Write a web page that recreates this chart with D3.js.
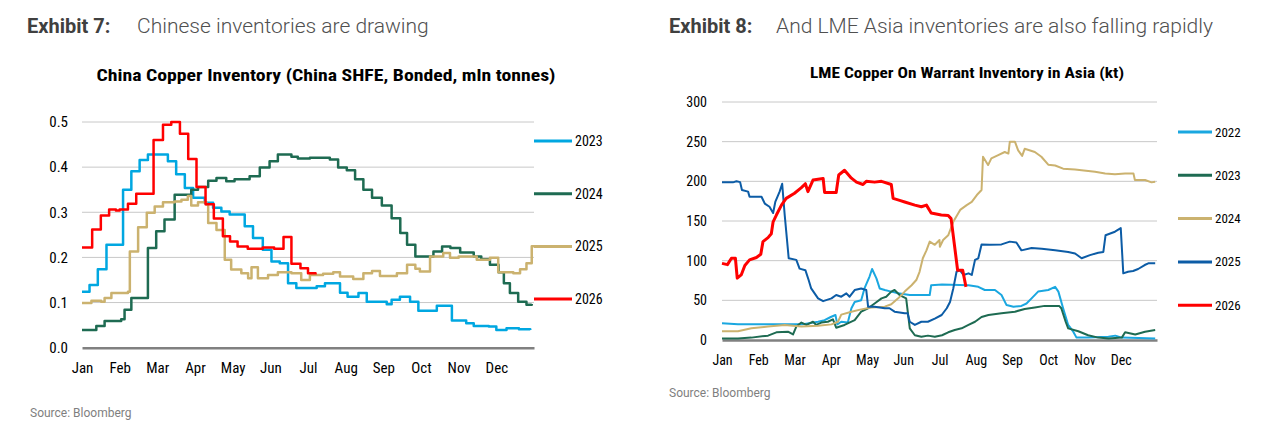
<!DOCTYPE html>
<html>
<head>
<meta charset="utf-8">
<script src="https://cdn.jsdelivr.net/npm/d3@7"></script>
<style>
  body { margin: 0; background: #fff; }
  svg text { font-family: "Roboto Condensed", "Liberation Sans Narrow", Roboto, sans-serif; }
</style>
</head>
<body>
<svg width="1281" height="430"></svg>
<script>
// month tick labels (shared)
var monthLabels = ["Jan","Feb","Mar","Apr","May","Jun","Jul","Aug","Sep","Oct","Nov","Dec"];

// ---- Exhibit 7: China copper inventory (mln t), x = fractional month ----
var chinaYears = ["2023","2024","2025","2026"];
var chinaTicks = [0, 0.1, 0.2, 0.3, 0.4, 0.5];
var china2023 = [[0,0.124],[0.2,0.139],[0.42,0.174],[0.65,0.228],[1.09,0.35],[1.31,0.391],[1.53,0.416],[1.75,0.428],[2.28,0.413],[2.5,0.384],[2.73,0.354],[2.95,0.332],[3.26,0.321],[3.48,0.31],[3.7,0.302],[3.92,0.295],[4.32,0.269],[4.54,0.243],[4.8,0.217],[5.03,0.191],[5.25,0.187],[5.47,0.143],[5.69,0.132],[6.23,0.136],[6.45,0.143],[6.85,0.122],[7.05,0.113],[7.34,0.121],[7.56,0.102],[8.09,0.096],[8.22,0.106],[8.44,0.113],[8.71,0.102],[8.93,0.082],[9.42,0.093],[9.82,0.06],[10.2,0.054],[10.4,0.048],[10.8,0.047],[11.0,0.039],[11.27,0.043],[11.6,0.041],[11.9,0.039]];
var china2024 = [[0,0.039],[0.38,0.048],[0.6,0.059],[1.04,0.063],[1.13,0.084],[1.31,0.11],[1.75,0.221],[1.97,0.258],[2.19,0.284],[2.46,0.339],[2.9,0.35],[3.08,0.356],[3.35,0.37],[3.57,0.376],[3.83,0.369],[4.05,0.373],[4.45,0.38],[4.72,0.399],[4.98,0.413],[5.2,0.428],[5.56,0.423],[5.73,0.419],[6.05,0.421],[6.58,0.417],[6.8,0.399],[7.03,0.393],[7.25,0.373],[7.47,0.35],[7.7,0.332],[7.96,0.315],[8.22,0.287],[8.45,0.254],[8.63,0.228],[8.85,0.202],[9.33,0.213],[9.56,0.224],[9.78,0.221],[10.04,0.211],[10.4,0.202],[10.6,0.196],[10.83,0.184],[11.06,0.167],[11.2,0.143],[11.36,0.121],[11.58,0.102],[11.8,0.095],[11.94,0.097]];
var china2025 = [[0,0.099],[0.25,0.104],[0.51,0.102],[0.6,0.11],[0.78,0.121],[1.22,0.124],[1.27,0.213],[1.49,0.267],[1.72,0.299],[1.93,0.313],[2.15,0.322],[2.46,0.324],[2.64,0.328],[2.81,0.336],[2.9,0.315],[3.08,0.322],[3.3,0.317],[3.35,0.276],[3.57,0.261],[3.79,0.195],[3.96,0.173],[4.23,0.165],[4.41,0.154],[4.5,0.178],[4.67,0.154],[4.94,0.161],[5.2,0.167],[5.56,0.165],[5.82,0.15],[6.05,0.161],[6.4,0.164],[6.67,0.167],[6.85,0.158],[7.2,0.152],[7.47,0.165],[7.7,0.17],[7.91,0.159],[8.36,0.165],[8.63,0.184],[8.85,0.175],[8.97,0.169],[9.24,0.202],[9.59,0.21],[9.77,0.199],[10.0,0.202],[10.48,0.195],[10.83,0.199],[11.05,0.167],[11.45,0.165],[11.63,0.174],[11.8,0.187],[11.94,0.225],[12,0.225]];
var china2026 = [[0,0.222],[0.27,0.262],[0.5,0.293],[0.72,0.306],[0.9,0.304],[1.0,0.306],[1.22,0.319],[1.44,0.341],[1.9,0.46],[2.15,0.494],[2.37,0.5],[2.6,0.474],[2.82,0.418],[3.04,0.356],[3.28,0.318],[3.5,0.286],[3.74,0.247],[3.93,0.235],[4.13,0.224],[4.4,0.219],[4.8,0.222],[5.1,0.219],[5.35,0.245],[5.56,0.186],[5.8,0.176],[6.0,0.165],[6.2,0.162]];

// ---- Exhibit 8: LME copper on warrant inventory in Asia (kt) ----
var lmeYears = ["2022","2023","2024","2025","2026"];
var lmeTicks = [0, 50, 100, 150, 200, 250, 300];
var lme2022 = [[0,21],[0.44,19.7],[1.27,19.7],[2.2,19.7],[2.65,23],[2.83,25],[3.0,29],[3.13,31.5],[3.18,19.7],[3.29,23],[3.47,22],[3.57,40],[3.66,48],[3.84,50],[3.93,65],[4.07,80],[4.14,89.5],[4.26,77.7],[4.35,65],[4.49,63],[4.67,61],[4.86,59],[5.18,56.7],[5.41,56.7],[5.73,56.7],[5.77,69],[6.07,70],[6.8,69],[7.07,67],[7.25,63],[7.53,63],[7.71,56.7],[7.85,44],[8.04,42],[8.26,43],[8.4,46],[8.54,52.5],[8.72,61],[9.0,63],[9.19,67],[9.28,61],[9.41,40],[9.55,19],[9.69,10.5],[9.78,3],[10.1,3],[10.66,4],[10.85,5.5],[11.03,3],[11.95,2]];
var lme2023 = [[0,2],[0.44,2],[0.81,3],[1.27,5.5],[1.5,9.7],[1.82,10.5],[1.96,7],[2.05,17],[2.19,22],[2.33,19],[2.51,23],[2.6,19],[2.74,22],[2.92,23],[3.06,26],[3.15,15.5],[3.38,19],[3.66,25],[3.84,35.7],[4.03,40],[4.21,46],[4.4,52.5],[4.53,54.6],[4.67,61],[4.76,63],[4.9,56.7],[5.08,52.5],[5.18,14.7],[5.32,6],[5.5,4],[5.68,5.5],[5.87,4],[6.07,6],[6.24,9.7],[6.42,12.6],[6.61,14.7],[6.8,19],[6.98,23],[7.16,29],[7.35,31.5],[7.71,33.6],[8.08,35.7],[8.35,39],[8.63,41],[8.9,43],[9.3,43],[9.36,40],[9.48,23],[9.55,14.7],[9.83,11],[10.1,6],[10.38,3],[10.66,2],[11.03,3],[11.12,9.7],[11.4,7],[11.67,10.5],[11.95,12.6]];
var lme2024 = [[0,11],[0.44,11],[0.81,14.7],[1.27,17],[1.73,19],[2.19,17],[2.65,18],[3.02,19.7],[3.2,23],[3.29,32],[3.57,35.7],[3.84,38.6],[4.12,41],[4.49,42],[4.67,45],[4.86,52.5],[5.04,61],[5.23,69],[5.36,75.6],[5.45,86],[5.54,103],[5.64,113],[5.73,124],[5.87,120],[6.0,126],[6.01,117.6],[6.1,126],[6.24,132],[6.38,149],[6.57,164],[6.75,170],[6.89,174],[7.03,182.7],[7.16,189],[7.2,231],[7.34,220.5],[7.43,229],[7.62,233],[7.8,237],[7.9,235],[7.94,250],[8.08,250],[8.17,239],[8.28,232],[8.35,241],[8.63,237],[8.81,231],[9.0,221],[9.19,220],[9.41,216],[9.74,215],[9.92,214],[10.29,212],[10.57,210],[10.84,209],[11.12,210],[11.35,210],[11.39,201.6],[11.67,201.6],[11.85,198.7],[11.95,199.5]];
var lme2025 = [[0,198.7],[0.3,198.7],[0.4,200],[0.5,199],[0.55,189],[0.72,187],[0.76,180.6],[1.09,180.6],[1.18,172],[1.31,168],[1.41,160],[1.47,174],[1.59,187],[1.66,197],[1.73,157.5],[1.84,103],[2.05,101],[2.14,90],[2.3,88],[2.39,75.6],[2.46,65],[2.65,52.5],[2.79,49],[3.02,52.5],[3.15,56.7],[3.29,54.6],[3.43,58.8],[3.52,54.6],[3.66,63],[3.84,65],[3.98,63],[4.03,42],[4.21,42],[4.49,40],[4.62,40],[4.76,35.7],[5.04,33.6],[5.12,33.6],[5.18,23],[5.32,19],[5.5,23],[5.68,23],[5.87,27],[6.06,31.5],[6.2,40],[6.29,48],[6.38,65],[6.47,86],[6.56,88],[6.66,82],[6.8,84],[6.89,82],[6.98,101],[7.07,103],[7.16,120.5],[7.39,120],[7.71,120.5],[7.94,124],[8.12,123],[8.26,113],[8.54,116],[8.82,115],[9.19,113],[9.55,111],[9.74,109],[9.92,103],[10.15,107],[10.38,110],[10.52,111],[10.58,132],[10.84,136.5],[11.0,141],[11.07,84],[11.2,86],[11.34,87],[11.48,89.5],[11.66,94.5],[11.76,96.6],[11.95,96.6]];
var lme2026 = [[0,96.6],[0.15,95],[0.26,103],[0.37,103],[0.42,78],[0.53,82],[0.63,94],[0.76,101],[0.95,104],[1.07,108],[1.13,124],[1.27,129],[1.36,134],[1.41,149],[1.5,157.5],[1.64,170],[1.77,178.5],[2.0,185],[2.19,192],[2.3,197],[2.37,187],[2.51,201.6],[2.79,203.7],[2.83,186],[3.15,186],[3.22,208],[3.38,214],[3.57,204],[3.71,199],[3.89,196],[3.98,200],[4.21,199],[4.4,200],[4.67,196],[4.72,178.5],[4.9,176],[5.04,174],[5.32,170],[5.5,168],[5.64,170],[5.77,160],[6.05,157.5],[6.24,157],[6.32,153],[6.5,88],[6.64,88],[6.73,67]];

var svg = d3.select("svg");

function drawChart(cfg) {
    var x = d3.scaleLinear().domain([0, 12]).range([cfg.left, cfg.right]);
    var y = d3.scaleLinear().domain([0, cfg.max]).range([cfg.bottom, cfg.top]);

    // headings
    svg.append("text").attr("x", cfg.headX).attr("y", 33)
        .style("font-family", "Roboto").style("font-weight", 700)
        .style("font-size", "20px").attr("fill", "#404040").text(cfg.exhibit);
    svg.append("text").attr("x", cfg.subX).attr("y", 33)
        .style("font-family", "Roboto").style("font-weight", 300)
        .style("font-size", "21px").attr("fill", "#505050").text(cfg.subtitle);

    svg.append("text").attr("x", cfg.titleX).attr("y", cfg.titleY)
        .attr("text-anchor", "middle")
        .attr("textLength", cfg.titleW).attr("lengthAdjust", "spacingAndGlyphs")
        .style("font-weight", 700).style("font-size", cfg.titleSize + "px")
        .attr("fill", "#000").text(cfg.title);

    // gridlines
    var grid = svg.append("g");
    grid.selectAll("line").data(cfg.ticks.slice(1)).enter().append("line")
        .attr("x1", cfg.left).attr("x2", cfg.right)
        .attr("y1", function(d){ return y(d); }).attr("y2", function(d){ return y(d); })
        .attr("stroke", "#c8c8c8").attr("stroke-width", 1);

    // y axis labels
    var yAxis = d3.axisLeft(y).tickValues(cfg.ticks).tickSize(0).tickPadding(cfg.yPad)
        .tickFormat(cfg.fmt);
    var ya = svg.append("g").attr("transform", "translate(" + cfg.left + ",0)").call(yAxis);
    ya.select(".domain").remove();
    ya.selectAll("text").style("font-size", cfg.fontSize + "px").attr("fill", "#000");

    // x axis
    var xAxis = d3.axisBottom(x).tickValues(d3.range(12)).tickSize(0).tickPadding(cfg.xPad)
        .tickFormat(function(d){ return monthLabels[d]; });
    var xa = svg.append("g").attr("transform", "translate(0," + cfg.bottom + ")").call(xAxis);
    xa.select(".domain").attr("stroke", "#808080").attr("stroke-width", 2.5);
    xa.selectAll("text").style("font-size", cfg.fontSize + "px").attr("fill", "#000");

    var line = d3.line()
        .x(function(d){ return x(d[0]); })
        .y(function(d){ return y(d[1]); })
        .curve(cfg.curve);

    cfg.series.forEach(function(s){
        svg.append("path").datum(s.data)
            .attr("d", line)
            .attr("fill", "none")
            .attr("stroke", s.color)
            .attr("stroke-width", s.width)
            .attr("stroke-linejoin", "round");
    });

    // legend
    var leg = svg.append("g").selectAll("g").data(cfg.series).enter().append("g")
        .attr("transform", function(d, i){ return "translate(" + cfg.legX + "," + (cfg.legY + i * cfg.legStep) + ")"; });
    leg.append("line").attr("x1", 0).attr("x2", cfg.legLen)
        .attr("stroke", function(d){ return d.color; }).attr("stroke-width", 3);
    leg.append("text").attr("x", cfg.legLen + 3).attr("dy", "0.35em")
        .style("font-size", cfg.fontSize - 1 + "px").attr("fill", "#000")
        .text(function(d){ return d.name; });

    svg.append("text").attr("x", cfg.srcX).attr("y", cfg.srcY)
        .style("font-family", "Roboto").style("font-size", "12px")
        .attr("fill", "#7f7f7f").text("Source: Bloomberg");
}

var chinaColors = ["#00a7e1", "#1e6b52", "#cbb26f", "#ff0000"];
var lmeColors = ["#1aa7e0", "#1e6b52", "#cbb26f", "#0c5ca6", "#ff0000"];

drawChart({
    exhibit: "Exhibit 7:", subtitle: "Chinese inventories are drawing", headX: 27, subX: 137,
    title: "China Copper Inventory (China SHFE, Bonded, mln tonnes)",
    titleX: 326, titleY: 81, titleW: 459, titleSize: 17,
    left: 82, right: 534, top: 122, bottom: 347.7, max: 0.5,
    ticks: chinaTicks, fmt: d3.format(".1f"), yPad: 14, xPad: 15, fontSize: 15,
    curve: d3.curveStepAfter,
    series: [
        {name: chinaYears[0], data: china2023, color: chinaColors[0], width: 2.5},
        {name: chinaYears[1], data: china2024, color: chinaColors[1], width: 2.5},
        {name: chinaYears[2], data: china2025, color: chinaColors[2], width: 2.5},
        {name: chinaYears[3], data: china2026, color: chinaColors[3], width: 2.5}
    ],
    legX: 534, legY: 141, legStep: 52.7, legLen: 38,
    srcX: 30, srcY: 417
});

drawChart({
    exhibit: "Exhibit 8:", subtitle: "And LME Asia inventories are also falling rapidly", headX: 669, subX: 776,
    title: "LME Copper On Warrant Inventory in Asia (kt)",
    titleX: 967, titleY: 78, titleW: 314, titleSize: 15,
    left: 722, right: 1157, top: 102, bottom: 340, max: 300,
    ticks: lmeTicks, fmt: d3.format("d"), yPad: 15, xPad: 15, fontSize: 14,
    curve: d3.curveLinear,
    series: [
        {name: lmeYears[0], data: lme2022, color: lmeColors[0], width: 2},
        {name: lmeYears[1], data: lme2023, color: lmeColors[1], width: 2},
        {name: lmeYears[2], data: lme2024, color: lmeColors[2], width: 2},
        {name: lmeYears[3], data: lme2025, color: lmeColors[3], width: 2},
        {name: lmeYears[4], data: lme2026, color: lmeColors[4], width: 3}
    ],
    legX: 1178, legY: 132, legStep: 43.3, legLen: 34,
    srcX: 669, srcY: 397
});
</script>
</body>
</html>
